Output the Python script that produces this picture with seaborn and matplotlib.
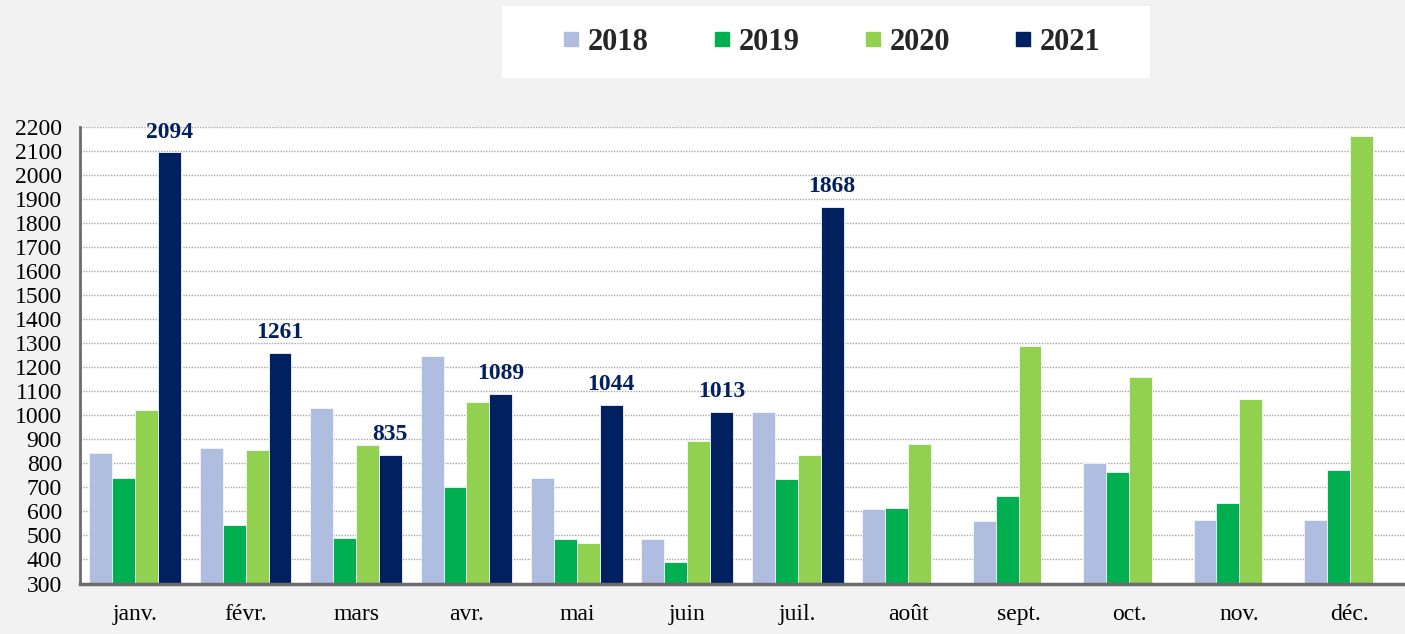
import matplotlib
matplotlib.use("Agg")
import matplotlib.pyplot as plt
from matplotlib.lines import Line2D
from matplotlib.patches import Rectangle
import seaborn as sns
import pandas as pd
import numpy as np

months = ["janv.", "févr.", "mars", "avr.", "mai", "juin", "juil.", "août", "sept.", "oct.", "nov.", "déc."]
years = ["2018", "2019", "2020", "2021"]
v2018 = [842, 862, 1030, 1245, 738, 485, 1012, 612, 560, 800, 565, 566]
v2019 = [738, 542, 488, 700, 484, 390, 735, 613, 663, 763, 635, 772]
v2020 = [1024, 857, 876, 1055, 470, 895, 835, 882, 1290, 1160, 1066, 2163]
v2021 = [2094, 1261, 835, 1089, 1044, 1013, 1868, np.nan, np.nan, np.nan, np.nan, np.nan]
colors = ["#aebde0", "#00b050", "#92d050", "#002060"]
y_ticks = list(range(300, 2201, 100))

series = {"2018": v2018, "2019": v2019, "2020": v2020, "2021": v2021}
rows = []
for y in years:
    for m, v in zip(months, series[y]):
        rows.append({"mois": m, "annee": y, "valeur": v})
df = pd.DataFrame(rows)

sns.set_theme(style="white")
plt.rcParams["font.family"] = ["Liberation Serif", "DejaVu Serif"]

fig = plt.figure(figsize=(14.05, 6.34), dpi=100, facecolor="#f2f2f2")
ax = fig.add_axes([80 / 1405, (634 - 583.5) / 634, 1 - 80 / 1405, (583.5 - 127) / 634])
ax.set_facecolor("white")

palette = dict(zip(years, colors))
sns.barplot(data=df.dropna(), x="mois", y="valeur", hue="annee", order=months,
            hue_order=years, palette=palette, width=0.83, gap=0, ax=ax,
            edgecolor="#f4f7fb", linewidth=0.6, saturation=1, legend=False)

ax.set_xlim(-0.5, 11.5)
ax.set_ylim(300, 2200)
ax.set_yticks(y_ticks)
ax.set_yticklabels([str(t) for t in y_ticks], fontsize=17)
ax.set_xticks(range(len(months)))
ax.set_xticklabels(months, fontsize=17)
ax.tick_params(axis="y", length=0, pad=13, colors="black")
ax.tick_params(axis="x", length=0, pad=15, colors="black")
ax.set_xlabel("")
ax.set_ylabel("")

ax.set_axisbelow(True)
ax.yaxis.grid(True, linestyle=(0, (1, 1)), color="#a6a6a6", linewidth=1)
ax.xaxis.grid(False)
for s in ["top", "right"]:
    ax.spines[s].set_visible(False)
ax.spines["left"].set_color("#6b6b6b")
ax.spines["left"].set_linewidth(2)
ax.spines["bottom"].set_color("#6b6b6b")
ax.spines["bottom"].set_linewidth(2.5)

# data labels for 2021
cont = ax.containers[3]
ax.bar_label(cont, fmt="%d", padding=7, fontsize=17, fontweight="bold", color="#002060")

# legend box
fig.patches.append(Rectangle((502 / 1405, 1 - 78 / 634), 648 / 1405, 72 / 634,
                             transform=fig.transFigure, facecolor="white",
                             edgecolor="none", zorder=0))
handles = [Line2D([], [], marker="s", linestyle="", markersize=9.5, color=c) for c in colors]
fig.legend(handles, years, loc="center", bbox_to_anchor=(832 / 1405, 1 - 42 / 634),
           ncol=4, frameon=False, prop={"size": 22, "weight": "bold"},
           handlelength=0.5, handletextpad=0.3, columnspacing=2.15)

fig.savefig("out.png", dpi=100, facecolor=fig.get_facecolor())
